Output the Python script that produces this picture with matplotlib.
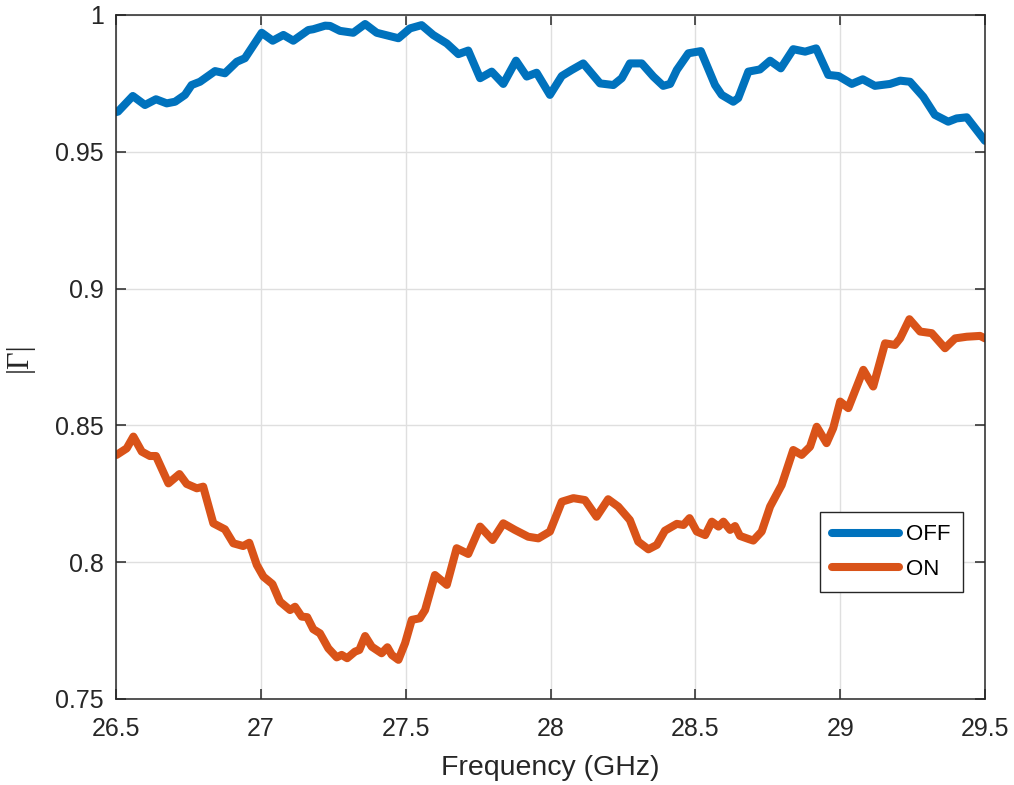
import matplotlib.pyplot as plt

# reflection magnitude, state OFF
freq_off = [26.500, 26.507, 26.558, 26.600, 26.638, 26.675, 26.704, 26.738, 26.761, 26.790,
            26.842, 26.876, 26.917, 26.945, 27.003, 27.041, 27.078, 27.112, 27.164, 27.181,
            27.222, 27.239, 27.273, 27.319, 27.360, 27.400, 27.475, 27.515, 27.555, 27.595,
            27.642, 27.682, 27.716, 27.757, 27.797, 27.837, 27.881, 27.918, 27.952, 27.998,
            28.039, 28.073, 28.113, 28.171, 28.217, 28.246, 28.274, 28.315, 28.355, 28.389,
            28.413, 28.436, 28.476, 28.519, 28.568, 28.591, 28.631, 28.648, 28.683, 28.723,
            28.758, 28.795, 28.838, 28.879, 28.917, 28.959, 28.994, 29.040, 29.078, 29.120,
            29.172, 29.207, 29.241, 29.287, 29.327, 29.373, 29.402, 29.437, 29.500]
gamma_off = [0.9645, 0.9647, 0.9704, 0.9671, 0.9692, 0.9677, 0.9683, 0.9708, 0.9744, 0.9756,
             0.9795, 0.9787, 0.9829, 0.9842, 0.9935, 0.9906, 0.9927, 0.9906, 0.9945, 0.9948,
             0.9961, 0.9960, 0.9942, 0.9935, 0.9967, 0.9935, 0.9915, 0.9951, 0.9963, 0.9927,
             0.9896, 0.9857, 0.9870, 0.9769, 0.9793, 0.9748, 0.9833, 0.9775, 0.9789, 0.9708,
             0.9777, 0.9799, 0.9823, 0.9750, 0.9744, 0.9769, 0.9823, 0.9823, 0.9775, 0.9741,
             0.9748, 0.9799, 0.9860, 0.9868, 0.9744, 0.9708, 0.9683, 0.9696, 0.9793, 0.9801,
             0.9833, 0.9805, 0.9875, 0.9866, 0.9878, 0.9781, 0.9777, 0.9748, 0.9765, 0.9741,
             0.9748, 0.9760, 0.9756, 0.9701, 0.9635, 0.9610, 0.9622, 0.9626, 0.9540]

# reflection magnitude, state ON
freq_on = [26.502, 26.537, 26.560, 26.589, 26.617, 26.638, 26.681, 26.719, 26.744, 26.779,
           26.801, 26.836, 26.876, 26.905, 26.939, 26.960, 26.986, 27.009, 27.040, 27.066,
           27.101, 27.118, 27.141, 27.160, 27.181, 27.204, 27.233, 27.262, 27.279, 27.298,
           27.325, 27.340, 27.360, 27.383, 27.417, 27.437, 27.452, 27.475, 27.498, 27.521,
           27.549, 27.567, 27.601, 27.642, 27.676, 27.716, 27.757, 27.800, 27.837, 27.877,
           27.923, 27.958, 27.998, 28.039, 28.079, 28.119, 28.159, 28.199, 28.234, 28.274,
           28.303, 28.338, 28.367, 28.395, 28.436, 28.459, 28.480, 28.505, 28.534, 28.557,
           28.580, 28.597, 28.620, 28.637, 28.654, 28.683, 28.700, 28.729, 28.758, 28.798,
           28.838, 28.867, 28.896, 28.919, 28.953, 28.976, 29.000, 29.028, 29.080, 29.114,
           29.155, 29.189, 29.207, 29.239, 29.276, 29.316, 29.362, 29.397, 29.437, 29.483,
           29.500]
gamma_on = [0.8392, 0.8416, 0.8459, 0.8404, 0.8388, 0.8388, 0.8288, 0.8322, 0.8286, 0.8270,
            0.8276, 0.8142, 0.8120, 0.8069, 0.8059, 0.8071, 0.7990, 0.7947, 0.7920, 0.7856,
            0.7825, 0.7837, 0.7801, 0.7799, 0.7755, 0.7740, 0.7685, 0.7652, 0.7661, 0.7649,
            0.7673, 0.7679, 0.7730, 0.7691, 0.7667, 0.7689, 0.7661, 0.7643, 0.7704, 0.7789,
            0.7795, 0.7825, 0.7953, 0.7917, 0.8051, 0.8030, 0.8130, 0.8081, 0.8142, 0.8118,
            0.8093, 0.8087, 0.8112, 0.8221, 0.8234, 0.8227, 0.8166, 0.8230, 0.8203, 0.8154,
            0.8075, 0.8047, 0.8063, 0.8115, 0.8140, 0.8136, 0.8161, 0.8112, 0.8099, 0.8148,
            0.8130, 0.8148, 0.8118, 0.8132, 0.8096, 0.8085, 0.8079, 0.8112, 0.8203, 0.8282,
            0.8410, 0.8392, 0.8422, 0.8495, 0.8435, 0.8490, 0.8587, 0.8563, 0.8703, 0.8642,
            0.8800, 0.8794, 0.8818, 0.8888, 0.8843, 0.8837, 0.8782, 0.8818, 0.8824, 0.8827,
            0.8818]

xticks = [26.5, 27, 27.5, 28, 28.5, 29, 29.5]
xticklabels = ['26.5', '27', '27.5', '28', '28.5', '29', '29.5']
yticks = [0.75, 0.8, 0.85, 0.9, 0.95, 1]
yticklabels = ['0.75', '0.8', '0.85', '0.9', '0.95', '1']

plt.rcParams['font.family'] = ['Liberation Sans', 'DejaVu Sans']

fig = plt.figure(figsize=(10.14, 7.85), dpi=100)
ax = fig.add_axes([0.1144, 0.1096, 0.857, 0.8713])

ax.plot(freq_off, gamma_off, color='#0072BD', lw=5.8, solid_joinstyle='round',
        solid_capstyle='round', label='OFF')
ax.plot(freq_on, gamma_on, color='#D95319', lw=5.8, solid_joinstyle='round',
        solid_capstyle='round', label='ON')

ax.set_xlim(26.5, 29.5)
ax.set_ylim(0.75, 1)
ax.set_xticks(xticks)
ax.set_xticklabels(xticklabels)
ax.set_yticks(yticks)
ax.set_yticklabels(yticklabels)

ax.grid(True, color='#dfdfdf', lw=1.0)
ax.set_axisbelow(True)
for s in ax.spines.values():
    s.set_color('#262626')
    s.set_linewidth(1.1)
ax.tick_params(direction='in', length=7.5, width=1.1, color='#262626',
               labelcolor='#262626', labelsize=18, top=True, right=True)
ax.tick_params(axis='x', pad=13)
ax.tick_params(axis='y', pad=9)

ax.set_xlabel('Frequency (GHz)', fontsize=20.5, color='#262626', labelpad=10)
ax.set_ylabel('|Γ|', fontsize=22, family=['Liberation Serif', 'DejaVu Serif'],
              color='#262626', labelpad=15)

# legend box is a bit wider on the left in the original, so pad it a little more
leg = ax.legend(loc='lower right', bbox_to_anchor=(0.9747, 0.1564), borderaxespad=0,
                fontsize=16, handlelength=3.0, handletextpad=0.35, labelspacing=0.6,
                borderpad=0.55, fancybox=False, framealpha=1)
leg.get_frame().set_edgecolor('#262626')
leg.get_frame().set_linewidth(1.0)

fig.savefig('out.png', dpi=100)
